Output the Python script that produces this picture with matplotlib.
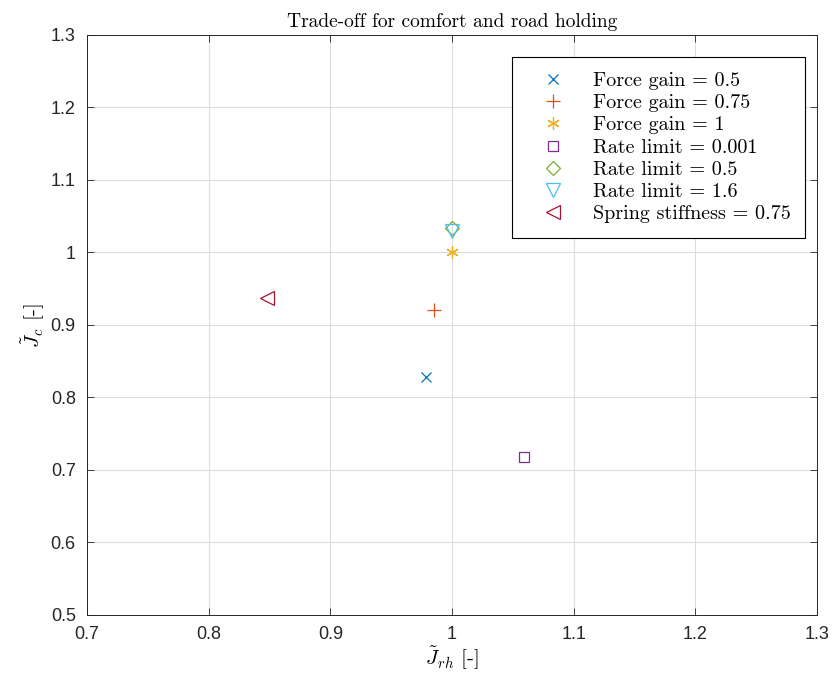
import matplotlib
matplotlib.use('Agg')
import matplotlib.pyplot as plt

plt.rcParams['mathtext.fontset'] = 'cm'
plt.rcParams['font.family'] = ['Liberation Sans', 'DejaVu Sans']

# data
labels = ['Force gain = 0.5', 'Force gain = 0.75', 'Force gain = 1',
          'Rate limit = 0.001', 'Rate limit = 0.5', 'Rate limit = 1.6',
          'Spring stiffness = 0.75']
j_rh = [0.979, 0.985, 1.0, 1.059, 1.0, 1.0, 0.848]
j_c = [0.828, 0.921, 1.0, 0.718, 1.034, 1.029, 0.937]
markers = ['x', '+', (6, 2, 0), 's', 'D', 'v', '<']
sizes = [7, 10, 9, 7.5, 7, 9.5, 9.5]
colors = ['#0072BD', '#D95319', '#EDB120', '#7E2F8E', '#77AC30', '#4DBEEE', '#A2142F']

fig = plt.figure(figsize=(8.38, 6.85), dpi=100)
ax = fig.add_axes([0.1038, 0.1022, 0.8712, 0.8468])

for i in range(len(labels)):
    filled = markers[i] in ('x', '+') or isinstance(markers[i], tuple)
    ax.plot(j_rh[i], j_c[i], linestyle='none', marker=markers[i],
            markersize=sizes[i], markeredgecolor=colors[i],
            markerfacecolor=colors[i] if filled else 'none',
            markeredgewidth=0.9, label=labels[i])

ax.set_xlim(0.7, 1.3)
ax.set_ylim(0.5, 1.3)
ax.set_xticks([0.7, 0.8, 0.9, 1.0, 1.1, 1.2, 1.3])
ax.set_xticklabels(['0.7', '0.8', '0.9', '1', '1.1', '1.2', '1.3'])
ax.set_yticks([0.5, 0.6, 0.7, 0.8, 0.9, 1.0, 1.1, 1.2, 1.3])
ax.set_yticklabels(['0.5', '0.6', '0.7', '0.8', '0.9', '1', '1.1', '1.2', '1.3'])
ax.tick_params(direction='in', top=True, right=True, labelsize=13,
               colors='#262626', length=5, width=0.6)
ax.tick_params(axis='x', pad=8)
ax.tick_params(axis='y', pad=8)
ax.grid(True, color='#dcdcdc', linewidth=0.8)
ax.set_axisbelow(True)
for s in ax.spines.values():
    s.set_color('#262626')
    s.set_linewidth(0.7)

ax.set_title('Trade-off for comfort and road holding', fontfamily='cmr10',
             fontsize=14, pad=6)
ax.set_xlabel(r'$\tilde{J}_{rh}$ [-]', fontsize=15, labelpad=1, fontfamily='cmr10')
ax.set_ylabel(r'$\tilde{J}_{c}$ [-]', fontsize=15, labelpad=3, fontfamily='cmr10')

leg = ax.legend(loc='upper right', bbox_to_anchor=(0.984, 0.962),
                prop={'family': 'cmr10', 'size': 14.5}, frameon=True,
                fancybox=False, edgecolor='black', framealpha=1,
                handletextpad=0.65, labelspacing=0.2, borderpad=0.75,
                handlelength=2.6, borderaxespad=0)
leg.get_frame().set_linewidth(0.8)

fig.savefig('out.png', dpi=100)
